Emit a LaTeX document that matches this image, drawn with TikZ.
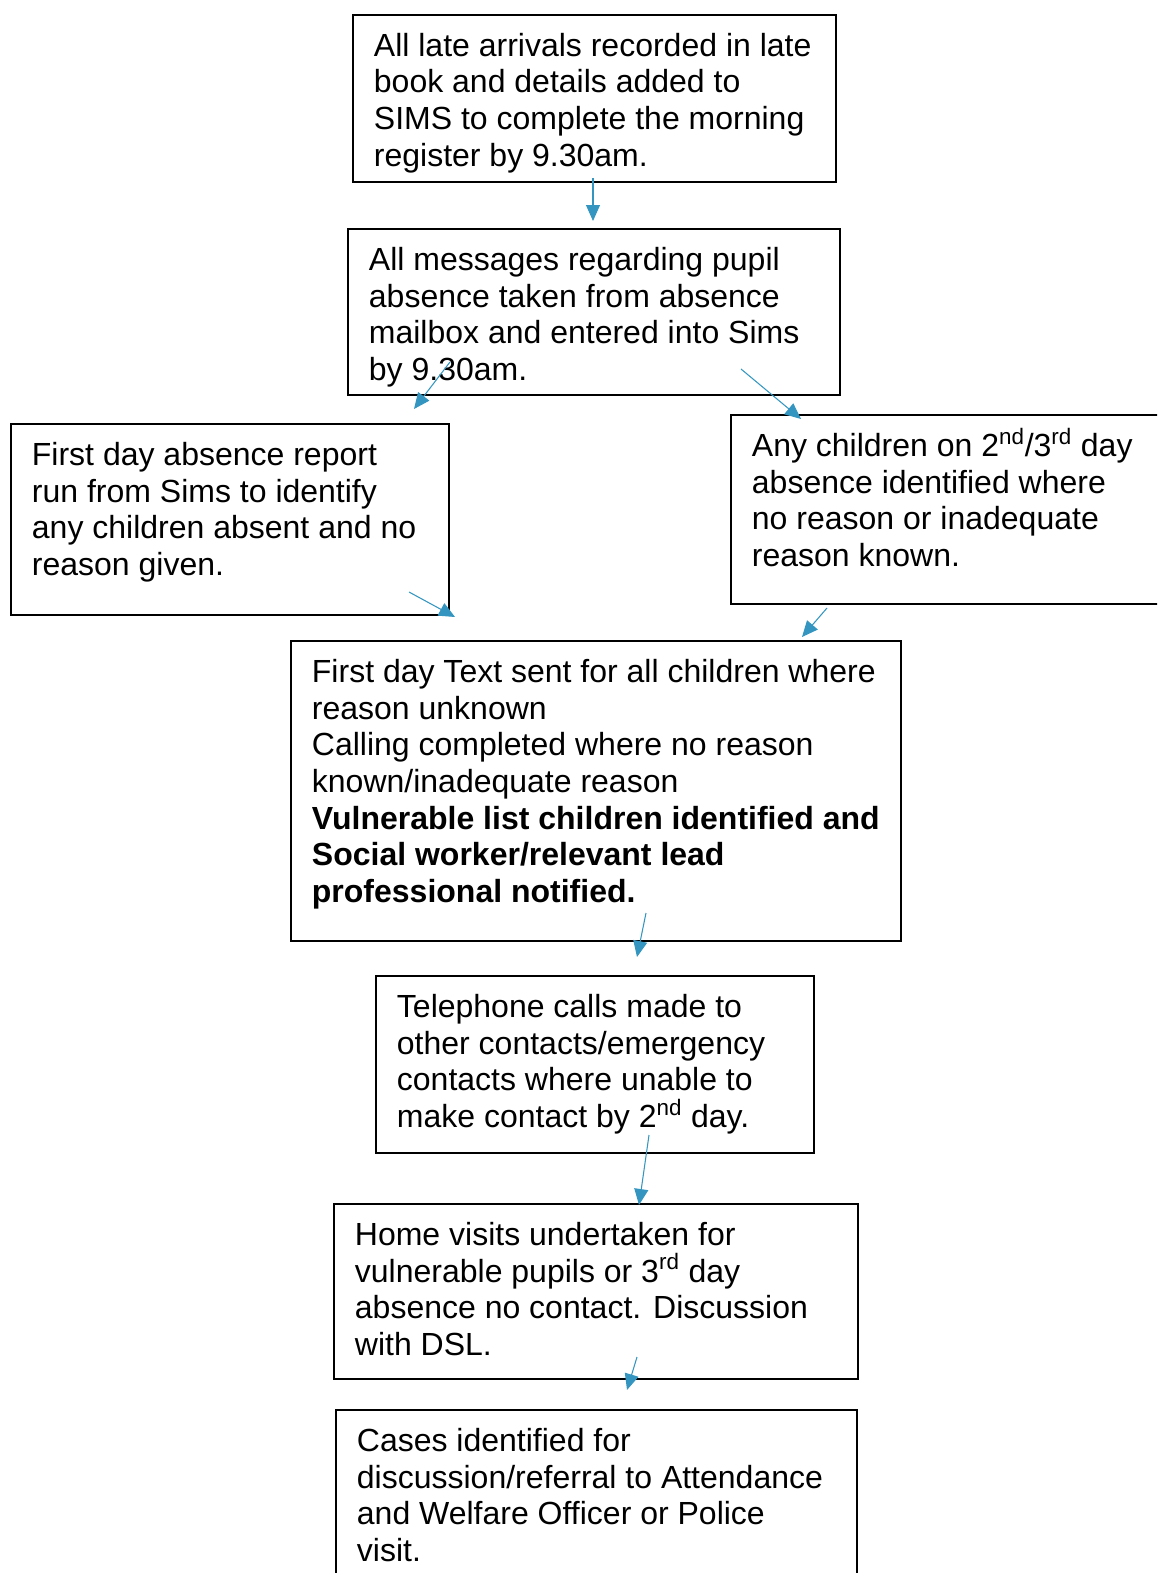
\documentclass[tikz,border=0pt]{standalone}
\usepackage{fontspec}
\setmainfont{Liberation Sans}
\usetikzlibrary{arrows.meta}
\definecolor{arrowblue}{RGB}{52,150,192}
\newcommand{\boxtxt}[3]{\parbox[t][#2][t]{#1}{\raggedright\strut #3}}
\newcommand{\sups}[1]{\smash{\textsuperscript{#1}}}
\tikzset{
  flowbox/.style={draw=black, line width=1.4pt, rectangle, anchor=north west,
    inner xsep=15.75pt, inner ysep=11.8pt, font=\fontsize{24}{27.5}\selectfont},
  flowarrow/.style={draw=arrowblue, line width=0.8pt,
    -{Triangle[length=12pt,width=10.5pt]}}
}
\begin{document}
\begin{tikzpicture}[x=0.75pt,y=-0.75pt]
\useasboundingbox (0,0) rectangle (1157,1573);
\clip (0,0) rectangle (1157,1573);

\node[flowbox] (b1) at (352,14) {\boxtxt{330.75pt}{101.65pt}{All late arrivals recorded in late\\book and details added to\\SIMS to complete the morning\\register by 9.30am.}};

\node[flowbox] (b2) at (347,228) {\boxtxt{337.5pt}{100.9pt}{All messages regarding pupil\\absence taken from absence\\mailbox and entered into Sims\\by 9.30am.}};

\node[flowbox] (b3) at (10,423) {\boxtxt{297pt}{119.65pt}{First day absence report\\run from Sims to identify\\any children absent and no\\reason given.}};

\node[flowbox] (b4) at (730,414) {\boxtxt{298.5pt}{118.15pt}{Any children on 2\sups{nd}/3\sups{rd} day\\absence identified where\\no reason or inadequate\\reason known.}};

\node[flowbox] (b5) at (290,640) {\boxtxt{426pt}{201.4pt}{First day Text sent for all children where\\reason unknown\\Calling completed where no reason\\known/inadequate reason\\{\bfseries Vulnerable list children identified and}\\{\bfseries Social worker/relevant lead}\\{\bfseries professional notified.}}};

\node[flowbox] (b6) at (375,975) {\boxtxt{297pt}{109.15pt}{Telephone calls made to\\other contacts/emergency\\contacts where unable to\\make contact by 2\sups{nd} day.}};

\node[flowbox] (b7) at (333,1203) {\boxtxt{361.5pt}{107.65pt}{Home visits undertaken for\\vulnerable pupils or 3\sups{rd} day\\absence no contact. Discussion\\with DSL.}};

\node[flowbox] (b8) at (335,1409) {\boxtxt{359.25pt}{126.4pt}{Cases identified for\\discussion/referral to Attendance\\and Welfare Officer or Police\\visit.}};

\coordinate (s1) at (593,178);  \coordinate (e1) at (593,221);
\coordinate (s2) at (450,362);  \coordinate (e2) at (414,409);
\coordinate (s3) at (741,369);  \coordinate (e3) at (801,419);
\coordinate (s4) at (409,592);  \coordinate (e4) at (455,617);
\coordinate (s5) at (827,608);  \coordinate (e5) at (802,637);
\coordinate (s6) at (646,913);  \coordinate (e6) at (637,957);
\coordinate (s7) at (649,1135); \coordinate (e7) at (639,1205);
\coordinate (s8) at (637,1357); \coordinate (e8) at (627,1390);

\draw[flowarrow] (s1) -- (e1);
\draw[flowarrow] (s2) -- (e2);
\draw[flowarrow] (s3) -- (e3);
\draw[flowarrow] (s4) -- (e4);
\draw[flowarrow] (s5) -- (e5);
\draw[flowarrow] (s6) -- (e6);
\draw[flowarrow] (s7) -- (e7);
\draw[flowarrow] (s8) -- (e8);
\end{tikzpicture}
\end{document}
